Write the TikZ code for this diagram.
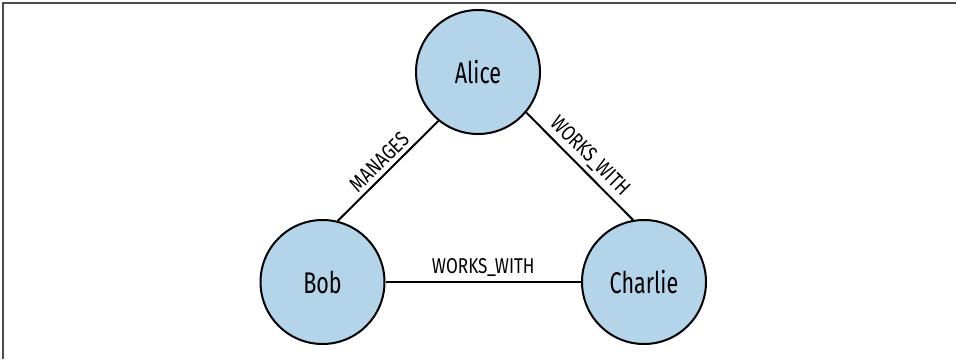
\documentclass[tikz,border=0pt]{standalone}
\usepackage{fontspec}
\usepackage{xcolor}
\newfontfamily\namefont[FakeStretch=0.72]{Fira Sans}
\newfontfamily\relfont[FakeStretch=0.8]{Fira Sans}
\definecolor{nodeblue}{RGB}{180,212,234}

\begin{document}
\begin{tikzpicture}[x=1bp, y=1bp,
    person/.style={circle, draw, line width=2bp, fill=nodeblue, minimum size=124bp, inner sep=0pt, font=\namefont\fontsize{30}{36}\selectfont},
    rel/.style={line width=2bp},
    rellabel/.style={font=\relfont\fontsize{21.5}{25}\selectfont, inner sep=4bp}]
    \useasboundingbox (0,0) rectangle (956,359);
    \draw[line width=1.5bp, black!70] (3,0) -- (3,356) -- (956,356);
    \node[person] (alice) at (478,287) {Alice};
    \node[person] (bob) at (322.5,77) {Bob};
    \node[person] (charlie) at (644,77) {Charlie};
    \draw[rel] (bob.76) -- node[rellabel, above, sloped] {MANAGES} (alice.231);
    \draw[rel] (alice.-40) -- node[rellabel, above, sloped] {WORKS\_WITH} (charlie.100);
    \draw[rel] (bob) -- node[rellabel, above] {WORKS\_WITH} (charlie);
\end{tikzpicture}
\end{document}
